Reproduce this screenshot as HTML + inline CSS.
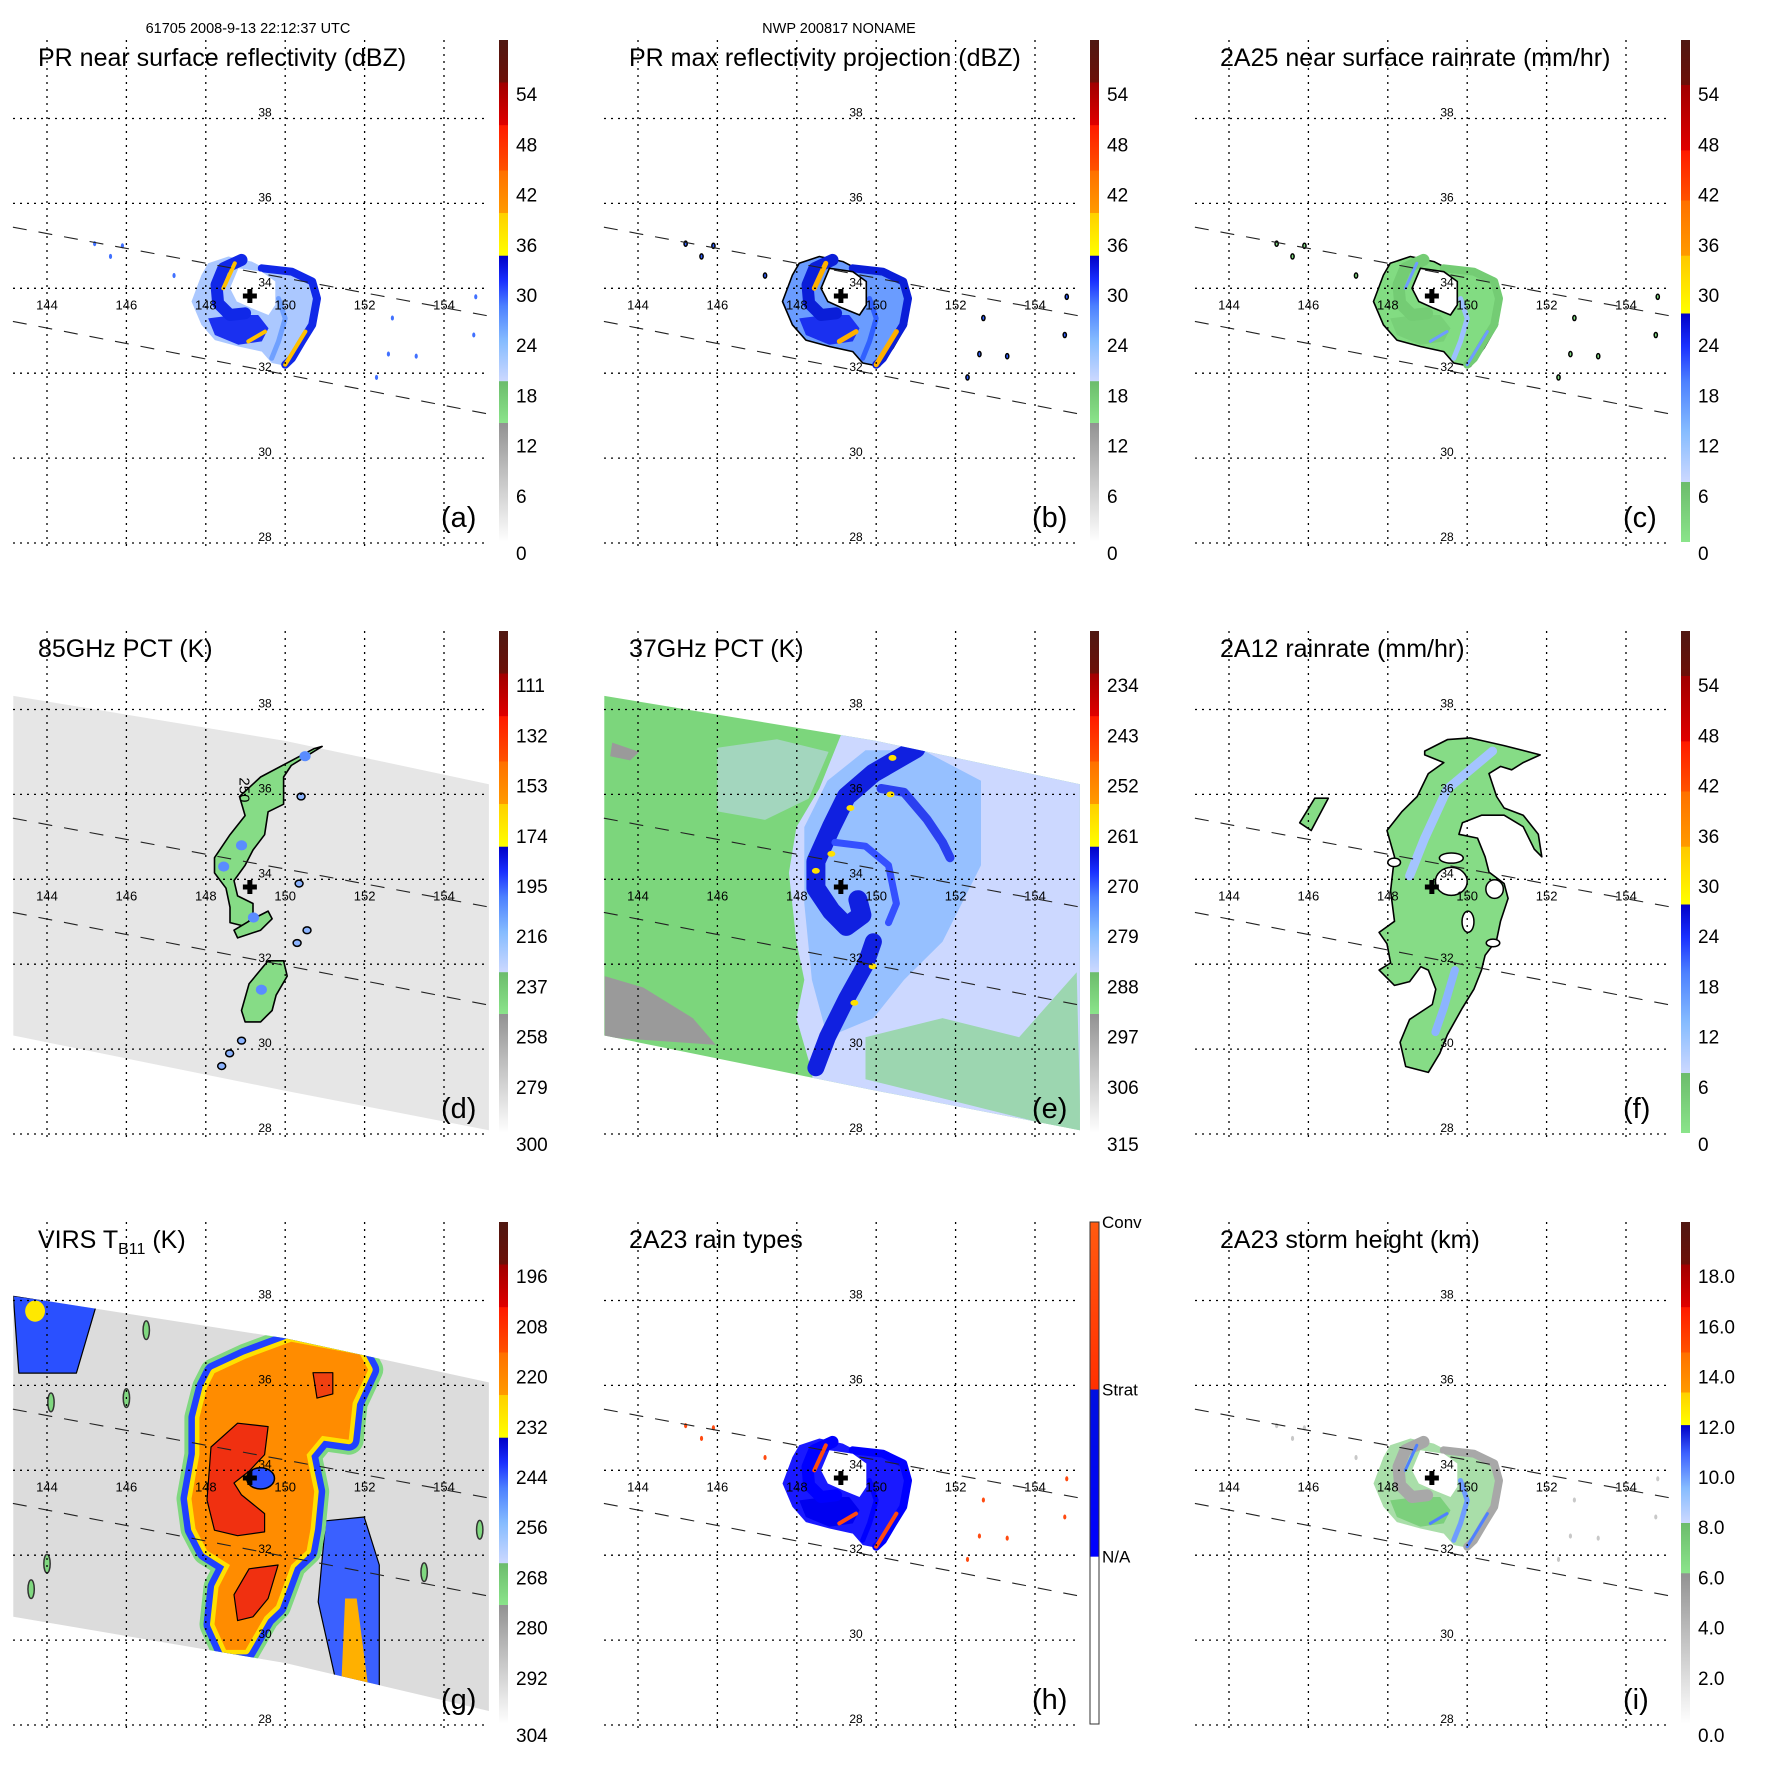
<!DOCTYPE html>
<html><head><meta charset="utf-8"><title>TRMM storm overview</title>
<style>
html,body{margin:0;padding:0;background:#fff;}
svg{display:block;font-family:"Liberation Sans",Arial,sans-serif;}
</style></head>
<body>
<svg id="chart" xmlns="http://www.w3.org/2000/svg" width="1771" height="1771" viewBox="0 0 1771 1771">
<rect x="0" y="0" width="1771" height="1771" fill="#fff"/>
<defs id="defs"></defs>
<text x="248" y="33" font-size="14.5" text-anchor="middle">61705 2008-9-13 22:12:37 UTC</text>
<text x="839" y="33" font-size="14.5" text-anchor="middle">NWP 200817 NONAME</text>
</svg>
<script>
const NS='http://www.w3.org/2000/svg';
const svg=document.getElementById('chart');
const defs=document.getElementById('defs');
const PITCH=591;

const LON_TICKS=[144,146,148,150,152,154];
const LAT_TICKS=[28,30,32,34,36,38];
const STORM_CENTER=[149.11,33.82];

const PR_TOP=[[143.14,35.44],[155.11,33.35]];
const PR_BOT=[[143.14,33.22],[155.11,31.04]];
const TMI_TOP=[[143.15,38.32],[150,37.26],[155.13,36.24]];
const TMI_BOT=[[143.15,30.32],[150,29.02],[155.13,28.09]];
const VIRS_TOP=[[143.15,38.11],[150,37.11],[155.13,36.07]];
const VIRS_BOT=[[143.15,30.55],[150,29.46],[155.13,28.33]];

const PR_ECHO=[[148.06,34.59],[148.57,34.75],[149.16,34.63],[149.41,34.51],[150.25,34.35],[150.68,34.24],[150.84,33.84],[150.76,33.14],[150.42,32.59],[150.08,32.16],[149.66,32.24],[149.41,32.51],[148.82,32.63],[148.23,32.78],[147.89,33.14],[147.64,33.69],[147.89,34.31]];
const PR_EYE=[[148.82,34.47],[149.41,34.39],[149.75,34.16],[149.75,33.61],[149.58,33.37],[149.16,33.53],[148.78,33.69],[148.61,34.0]];
const PR_ARC1=[[148.90,34.67],[148.44,34.47],[148.27,34.08],[148.31,33.65],[148.61,33.37],[148.99,33.41]];
const PR_MASS=[[148.06,33.29],[148.73,33.37],[149.32,33.37],[149.58,33.06],[149.41,32.75],[148.82,32.67],[148.23,32.90]];
const PR_ARC3=[[149.41,34.47],[150.17,34.39],[150.68,34.16],[150.80,33.76],[150.68,33.14],[150.42,32.75],[150.17,32.35],[150.0,32.2]];
const PR_ARC4=[[149.83,33.76],[150.0,33.29],[149.83,32.75],[149.66,32.35]];
const PR_HI1=[[148.73,34.59],[148.44,34.0]];
const PR_HI2=[[149.07,32.75],[149.49,32.98]];
const PR_HI3=[[150.51,32.98],[150.0,32.2]];
const PR_SCATTER=[[145.9,35.0],[145.6,34.75],[145.2,35.05],[152.7,33.3],[154.75,32.9],[153.3,32.4],[152.6,32.45],[154.8,33.8],[147.2,34.3],[152.3,31.9]];

const D_ARC=[[150.73,37.08],[149.38,36.41],[148.85,35.95],[148.99,35.5],[148.61,35.05],[148.22,34.51],[148.22,34.15],[148.51,33.79],[148.61,33.34],[148.61,32.98],[148.99,32.89],[149.19,33.16],[149.19,33.43],[148.80,33.61],[148.71,33.97],[148.99,34.33],[149.19,34.69],[149.48,35.05],[149.57,35.59],[149.96,35.77],[149.96,36.41],[150.15,36.68],[150.93,37.13]];
const D_ARM=[[148.71,32.80],[149.19,33.07],[149.57,33.25],[149.67,33.07],[149.38,32.80],[148.80,32.62]];
const D_SOUTH=[[149.57,32.08],[149.96,32.08],[150.05,31.72],[149.77,31.27],[149.67,30.91],[149.38,30.64],[148.99,30.64],[148.90,30.91],[149.09,31.54]];
const D_SPOTS=[[150.4,35.95],[150.55,32.8],[150.3,32.5],[148.6,29.9],[148.9,30.2],[148.4,29.6],[150.35,33.9]];
const D_BLUE=[[148.45,34.3],[148.9,34.8],[149.2,33.1],[149.4,31.4],[150.5,36.9]];

const E_LAV=[[149.15,38.84],[149.15,37.49],[148.57,36.14],[147.99,35.23],[147.80,34.15],[147.99,32.53],[148.19,31.63],[147.99,30.73],[148.38,29.47],[148.6,27.0],[155.6,27.0],[155.6,38.84]];
const E_LAV_W=[[146.0,37.1],[147.5,37.3],[148.8,37.0],[148.3,35.9],[147.2,35.4],[146.0,35.6]];
const E_GREEN_SE=[[149.73,30.28],[151.67,30.73],[153.6,30.28],[155.05,31.81],[155.15,28.03],[149.73,29.29]];
const E_LBLUE=[[149.73,37.04],[151.18,37.04],[152.64,36.32],[152.64,34.33],[151.67,32.53],[150.70,31.63],[149.93,30.73],[148.77,30.28],[148.38,31.63],[148.19,33.43],[148.19,35.23],[148.77,36.32]];
const E_BAND1=[[151.0,37.08],[149.93,36.50],[149.25,35.95],[148.87,35.23],[148.48,34.42],[148.48,33.79],[148.87,33.25],[149.25,32.89],[149.64,33.16],[149.54,33.52]];
const E_BAND2=[[149.93,32.53],[149.73,31.99],[149.25,31.18],[148.77,30.28],[148.48,29.56]];
const E_BAND3=[[150.12,36.14],[150.70,36.05],[151.28,35.41],[151.67,34.87],[151.86,34.51]];
const E_RING=[[148.96,34.87],[149.73,34.78],[150.31,34.33],[150.51,33.43],[150.31,32.98]];
const E_YELLOW=[[149.35,35.68],[148.87,34.6],[150.41,36.86],[150.36,36.0],[149.45,31.09],[149.91,31.95],[148.48,34.2]];
const E_GRAY1=[[143.16,31.72],[144.13,31.45],[145.38,30.73],[145.96,30.10],[143.16,30.28]];
const E_GRAY2=[[143.35,37.22],[144.03,37.0],[143.8,36.8],[143.3,36.9]];

const F_MAIN=[[148.93,37.02],[149.50,37.29],[150.07,37.33],[150.93,37.15],[151.84,36.93],[151.41,36.75],[151.12,36.58],[150.84,36.66],[150.55,36.49],[150.74,35.95],[150.93,35.68],[151.41,35.51],[151.79,35.06],[151.88,34.53],[151.69,34.71],[151.41,35.24],[150.93,35.51],[150.36,35.51],[149.88,35.33],[149.79,35.06],[150.26,34.97],[150.45,34.53],[150.55,34.17],[150.93,33.90],[151.03,33.55],[150.84,33.01],[150.74,32.57],[150.45,32.21],[150.36,31.86],[150.17,31.41],[149.88,30.97],[149.50,30.34],[149.31,29.90],[149.02,29.45],[148.45,29.59],[148.31,30.16],[148.55,30.70],[149.12,31.05],[149.21,31.41],[149.02,31.86],[148.83,31.94],[148.55,31.59],[148.17,31.50],[147.78,31.86],[148.07,32.03],[147.98,32.48],[147.78,32.75],[148.17,33.01],[148.07,33.73],[148.17,34.53],[147.98,35.15],[148.36,35.60],[148.74,35.95],[149.02,36.49],[149.41,36.75],[148.93,36.93]];
const F_HOLES=[[149.6,33.95,0.4,0.33],[150.69,33.77,0.22,0.22],[150.02,33.0,0.15,0.25],[149.6,34.5,0.3,0.12],[148.16,34.4,0.16,0.1],[150.65,32.5,0.17,0.09]];
const F_NW=[[145.78,35.33],[146.16,35.91],[146.50,35.91],[146.07,35.15]];
const F_STREAK=[[150.64,37.02],[149.50,36.13],[148.93,34.97],[148.55,34.08]];
const F_STREAK2=[[149.69,31.86],[149.41,30.97],[149.2,30.4]];

const G_ORANGE=[[148.22,36.29],[149.0,36.63],[150.15,37.03],[151.89,36.72],[152.09,36.37],[151.70,35.59],[151.60,34.72],[150.93,34.81],[150.54,34.37],[150.73,33.50],[150.64,32.63],[150.54,32.11],[150.15,31.77],[149.77,30.81],[149.48,30.55],[149.0,29.77],[148.51,29.77],[148.22,30.37],[148.32,31.24],[148.61,31.77],[148.03,32.11],[147.74,32.63],[147.64,33.33],[147.84,34.37],[147.84,35.24],[148.03,35.94]];
const G_RED1=[[148.13,34.55],[148.80,35.11],[149.57,35.03],[149.48,34.37],[149.09,33.98],[148.71,33.7],[148.9,33.42],[149.48,32.98],[149.48,32.55],[148.80,32.46],[148.22,32.59],[148.03,33.3]];
const G_RED2=[[148.80,30.46],[148.71,31.07],[149.09,31.68],[149.82,31.77],[149.57,30.98],[149.19,30.55]];
const G_RED3=[[150.7,36.3],[151.2,36.3],[151.2,35.8],[150.8,35.7]];
const G_EAST=[[151.02,32.81],[151.99,32.90],[152.37,31.77],[152.37,28.9],[151.31,28.9],[150.83,30.90]];
const G_EAST_Y=[[151.51,30.98],[151.80,30.98],[152.09,28.9],[151.41,28.9]];
const G_NW=[[143.15,38.11],[145.23,37.85],[144.74,36.29],[143.29,36.29]];
const G_EYE=[149.38,33.81];
const G_BITS=[[146.5,37.3],[144.1,35.6],[146.0,35.7],[143.6,31.2],[144.0,31.8],[153.5,31.6],[154.9,32.6]];

const CB_A=[[0,'#ffffff'],[0.237,'#929292'],[0.2375,'#8ae48a'],[0.32,'#6cbc6c'],[0.3205,'#ccd8ff'],[0.4,'#86bcff'],[0.47,'#4c80ff'],[0.52,'#1a30ff'],[0.57,'#0000c8'],[0.5705,'#ffff00'],[0.655,'#ffd000'],[0.6555,'#ff9a00'],[0.74,'#ff7000'],[0.7405,'#ff5200'],[0.83,'#ff1a00'],[0.8305,'#e00000'],[0.915,'#a00000'],[0.9155,'#6c1008'],[1,'#501812']];
const CB_C=[[0,'#8ae48a'],[0.119,'#6cbc6c'],[0.1195,'#ccd8ff'],[0.22,'#86bcff'],[0.32,'#4c80ff'],[0.39,'#1a30ff'],[0.455,'#0000c8'],[0.4555,'#ffff00'],[0.57,'#ffc800'],[0.5705,'#ff9a00'],[0.68,'#ff7000'],[0.6805,'#ff5200'],[0.78,'#ff1a00'],[0.7805,'#e00000'],[0.91,'#a00000'],[0.9105,'#6c1008'],[1,'#501812']];
const CB_I=[[0,'#ffffff'],[0.3,'#929292'],[0.3005,'#8ae48a'],[0.4,'#6cbc6c'],[0.4005,'#ccd8ff'],[0.47,'#86bcff'],[0.54,'#3c60ff'],[0.595,'#0000c8'],[0.5955,'#ffff00'],[0.66,'#ffd000'],[0.6605,'#ff9a00'],[0.74,'#ff7000'],[0.7405,'#ff5200'],[0.83,'#ff1a00'],[0.8305,'#e00000'],[0.915,'#a00000'],[0.9155,'#6c1008'],[1,'#501812']];
const CB_H=[[0,'#ffffff'],[0.333,'#ffffff'],[0.3335,'#0000ff'],[0.666,'#0010e0'],[0.6665,'#ff3000'],[1,'#ff5a10']];

const LAB_DBZ=['0','6','12','18','24','30','36','42','48','54'];
const LAB_RAIN=['0','6','12','18','24','30','36','42','48','54'];
const LAB_85=['300','279','258','237','216','195','174','153','132','111'];
const LAB_37=['315','306','297','288','279','270','261','252','243','234'];
const LAB_IR=['304','292','280','268','256','244','232','220','208','196'];
const LAB_HT=['0.0','2.0','4.0','6.0','8.0','10.0','12.0','14.0','16.0','18.0'];
const LAB_TYPE=['N/A','Strat','Conv'];

function X(lon){return 47+(lon-144)*39.7;}
function Y(lat){return 543-(lat-28)*42.45;}
function mk(tag,parent){const e=document.createElementNS(NS,tag);parent.appendChild(e);return e;}
function D(pts,closed){return 'M'+pts.map(p=>X(p[0]).toFixed(1)+','+Y(p[1]).toFixed(1)).join('L')+(closed?'Z':'');}
function swathD(top,bot){return D(top,false)+'L'+bot.slice().reverse().map(p=>X(p[0]).toFixed(1)+','+Y(p[1]).toFixed(1)).join('L')+'Z';}
function shape(g,pts,closed,fill,stroke,sw,name){
  const p=mk('path',g);
  p.setAttribute('d',D(pts,closed));
  p.setAttribute('fill',fill);
  p.setAttribute('stroke',stroke);
  p.setAttribute('stroke-width',sw);
  p.setAttribute('stroke-linejoin','round');
  p.setAttribute('stroke-linecap','round');
  
  
  return p;
}
function blob(g,c,rx,ry,fill,stroke,name){
  const e=mk('ellipse',g);
  e.setAttribute('cx',X(c[0]));e.setAttribute('cy',Y(c[1]));
  e.setAttribute('rx',rx*39.7);e.setAttribute('ry',ry*42.45);
  e.setAttribute('fill',fill);e.setAttribute('stroke',stroke);e.setAttribute('stroke-width',1.5);
  
  
  return e;
}
function makeGrad(id,stops){
  const lg=mk('linearGradient',defs);
  lg.setAttribute('id',id);lg.setAttribute('x1','0');lg.setAttribute('y1','1');lg.setAttribute('x2','0');lg.setAttribute('y2','0');
  stops.forEach(s=>{const st=mk('stop',lg);st.setAttribute('offset',s[0]);st.setAttribute('stop-color',s[1]);});
}
makeGrad('gA',CB_A);makeGrad('gC',CB_C);makeGrad('gI',CB_I);makeGrad('gH',CB_H);
function makeClip(id,top,bot){
  const cp=mk('clipPath',defs);cp.setAttribute('id',id);
  const p=mk('path',cp);p.setAttribute('d',swathD(top,bot));
}

function panel(col,row,letter,title,grad,labels,labFrac,content){
  const ox=col*PITCH, oy=row*PITCH;
  const g=mk('g',svg);
  g.setAttribute('transform','translate('+ox+','+oy+')');
  
  
  const cg=mk('g',g);
  
  
  content(cg,letter);
  const gg=mk('g',g);
  
  
  LON_TICKS.forEach(lon=>{
    const l=mk('line',gg);
    l.setAttribute('x1',X(lon));l.setAttribute('x2',X(lon));l.setAttribute('y1',40);l.setAttribute('y2',551);
    l.setAttribute('stroke','#000');l.setAttribute('stroke-width',1.3);l.setAttribute('stroke-dasharray','2,5');
    
    
    const t=mk('text',gg);
    t.setAttribute('x',X(lon));t.setAttribute('y',Y(34)+21);t.setAttribute('font-size',13);t.setAttribute('text-anchor','middle');
    t.textContent=lon;
    
    
  });
  LAT_TICKS.forEach(lat=>{
    const l=mk('line',gg);
    l.setAttribute('x1',13);l.setAttribute('x2',489);l.setAttribute('y1',Y(lat));l.setAttribute('y2',Y(lat));
    l.setAttribute('stroke','#000');l.setAttribute('stroke-width',1.3);l.setAttribute('stroke-dasharray','2,5');
    
    
    const t=mk('text',gg);
    t.setAttribute('x',265);t.setAttribute('y',Y(lat)-2);t.setAttribute('font-size',12);t.setAttribute('text-anchor','middle');
    t.textContent=lat;
    
    
  });
  [PR_TOP,PR_BOT].forEach((s,i)=>{
    const p=shape(g,s,false,'none','#222',1.1,i?'pr-swath-south-edge':'pr-swath-north-edge');
    p.setAttribute('stroke-dasharray','14,12');
    p.setAttribute('stroke-linecap','butt');
  });
  const cx=X(STORM_CENTER[0]),cy=Y(STORM_CENTER[1]);
  const cr=mk('path',g);
  cr.setAttribute('d','M'+(cx-7)+','+(cy-2.5)+'h14v5h-14zM'+(cx-2.5)+','+(cy-7)+'h5v14h-5z');
  cr.setAttribute('fill','#000');
  
  
  const tt=mk('text',g);
  tt.setAttribute('x',38);tt.setAttribute('y',66);tt.setAttribute('font-size',25);
  
  
  if(letter==='g'){
    tt.appendChild(document.createTextNode('VIRS T'));
    const s=mk('tspan',tt);s.setAttribute('font-size',16);s.setAttribute('dy',6);s.textContent='B11';
    const s2=mk('tspan',tt);s2.setAttribute('dy',-6);s2.textContent=' (K)';
  } else tt.textContent=title;
  const lt=mk('text',g);
  lt.setAttribute('x',441);lt.setAttribute('y',527);lt.setAttribute('font-size',29);
  lt.textContent='('+letter+')';
  
  
  const cb=mk('g',g);
  
  
  const r=mk('rect',cb);
  r.setAttribute('x',499);r.setAttribute('y',40);r.setAttribute('width',9);r.setAttribute('height',502);
  r.setAttribute('fill','url(#'+grad+')');
  if(grad==='gH'){r.setAttribute('stroke','#333');r.setAttribute('stroke-width',1);}
  
  
  labels.forEach((lab,i)=>{
    const f=labFrac(i);
    const yy=542-f*502;
    const t=mk('text',cb);
    t.setAttribute('x',grad==='gH'?511:516);
    t.setAttribute('y',grad==='gH'?yy+6:yy+(i===0?18:11));
    t.setAttribute('font-size',grad==='gH'?17:19);
    t.textContent=lab;
    
    
  });
}

function prStorm(g,scheme){
  const c=scheme;
  shape(g,PR_ECHO,true,c.fill,c.outline,c.ow,'rain-echo-area').setAttribute('fill-opacity',c.op);
  shape(g,PR_MASS,true,c.mass,'none',0,'rain-band-south-mass');
  shape(g,PR_ARC1,false,'none',c.arc,12,'rain-band-inner-spiral');
  shape(g,PR_ARC3,false,'none',c.arc,8,'rain-band-outer-arc');
  shape(g,PR_ARC4,false,'none',c.arc2,5,'rain-band-inner-arc');
  [PR_HI1,PR_HI2,PR_HI3].forEach((h,i)=>{
    shape(g,h,false,'none',c.hi,c.hw,'intense-rain-core-'+(i+1));
  });
  shape(g,PR_EYE,true,'#fff',c.outline,c.ow,'storm-eye');
  PR_SCATTER.forEach((p,i)=>{
    blob(g,p,0.04,0.06,c.dot,c.outline==='none'?'none':'#000','scattered-echo-'+i);
  });
}
const SCHEME_A={fill:'#8fb6ff',outline:'none',ow:0,op:0.75,mass:'#1a30f0',arc:'#1028e8',arc2:'#6fa0ff',hi:'#ffc000',hw:4,dot:'#4070ff'};
const SCHEME_B={fill:'#6a9cff',outline:'#000',ow:1.6,op:1,mass:'#1a30f0',arc:'#0a1ed8',arc2:'#3060ff',hi:'#ffb000',hw:5,dot:'#3060ff'};
const SCHEME_C={fill:'#82dc82',outline:'#000',ow:1.6,op:1,mass:'#78d078',arc:'#74cc74',arc2:'#9cc0ff',hi:'#6e9cff',hw:3,dot:'#82dc82'};
const SCHEME_H={fill:'#0000ff',outline:'none',ow:0,op:0.9,mass:'#0000f0',arc:'#0000ff',arc2:'#0000ff',hi:'#ff4a10',hw:4,dot:'#ff4a10'};
const SCHEME_I={fill:'#9ad89a',outline:'none',ow:0,op:0.85,mass:'#7cd07c',arc:'#a8a8a8',arc2:'#6f9cff',hi:'#4f80ff',hw:3,dot:'#c8c8c8'};

const dbzFrac=i=>i*6/60;
const tenFrac=i=>i/10;
const typeFrac=i=>(i+1)/3;

panel(0,0,'a','PR near surface reflectivity (dBZ)','gA',LAB_DBZ,dbzFrac,g=>prStorm(g,SCHEME_A));
panel(1,0,'b','PR max reflectivity projection (dBZ)','gA',LAB_DBZ,dbzFrac,g=>prStorm(g,SCHEME_B));
panel(2,0,'c','2A25 near surface rainrate (mm/hr)','gC',LAB_RAIN,dbzFrac,g=>prStorm(g,SCHEME_C));

panel(0,1,'d','85GHz PCT (K)','gA',LAB_85,tenFrac,g=>{
  const sw=mk('path',g);
  sw.setAttribute('d',swathD(TMI_TOP,TMI_BOT));sw.setAttribute('fill','#e6e6e6');
  
  
  shape(g,D_ARC,true,'#86dc86','#000',1.6,'convective-arc');
  shape(g,D_ARM,true,'#86dc86','#000',1.6,'convective-arm');
  shape(g,D_SOUTH,true,'#86dc86','#000',1.6,'southern-rainband');
  D_BLUE.forEach((p,i)=>{blob(g,p,0.14,0.12,'#5a8cff','none','ice-scattering-core-'+i);});
  D_SPOTS.forEach((p,i)=>{blob(g,p,0.1,0.08,'#8cb4ff','#000','small-cell-'+i);});
  const t=mk('text',g);
  t.setAttribute('x',X(148.85));t.setAttribute('y',Y(36.4));t.setAttribute('font-size',15);
  t.setAttribute('transform','rotate(90 '+X(148.85)+' '+Y(36.4)+')');
  t.textContent='250';
  
  
});

panel(1,1,'e','37GHz PCT (K)','gA',LAB_37,tenFrac,g=>{
  makeClip('clipE',TMI_TOP,TMI_BOT);
  const sw=mk('path',g);
  sw.setAttribute('d',swathD(TMI_TOP,TMI_BOT));sw.setAttribute('fill','#7cd67c');
  
  
  const cg=mk('g',g);cg.setAttribute('clip-path','url(#clipE)');
  
  
  shape(cg,E_GRAY1,true,'#9a9a9a','none',0,'warm-sea-patch-sw');
  shape(cg,E_GRAY2,true,'#9a9a9a','none',0,'warm-sea-patch-nw');
  shape(cg,E_LAV_W,true,'#c9d6ff','none',0,'light-rain-west').setAttribute('fill-opacity',0.5);
  shape(cg,E_LAV,true,'#ccd8ff','none',0,'light-rain-east');
  shape(cg,E_GREEN_SE,true,'#7cd67c','none',0,'clear-sky-southeast').setAttribute('fill-opacity',0.6);
  shape(cg,E_LBLUE,true,'#96c0ff','none',0,'moderate-rain');
  shape(cg,E_BAND1,false,'none','#1020e0',19,'eyewall-band');
  shape(cg,E_BAND2,false,'none','#1020e0',17,'southern-band');
  shape(cg,E_BAND3,false,'none','#2a40f0',9,'northeast-band');
  shape(cg,E_RING,false,'none','#3450ff',7,'inner-ring');
  E_YELLOW.forEach((p,i)=>{blob(cg,p,0.1,0.07,'#ffe000','none','heavy-rain-pixel-'+i);});
});

panel(2,1,'f','2A12 rainrate (mm/hr)','gC',LAB_RAIN,dbzFrac,g=>{
  shape(g,F_MAIN,true,'#86dc86','#000',1.6,'rain-area');
  shape(g,F_STREAK,false,'none','#a4c4ff',9,'rain-streak-north');
  shape(g,F_STREAK2,false,'none','#8cb4ff',8,'rain-streak-south');
  F_HOLES.forEach((h,i)=>{blob(g,[h[0],h[1]],h[2],h[3],'#fff','#000','no-rain-hole-'+i);});
  shape(g,F_NW,true,'#86dc86','#000',1.6,'northwest-rain-cell');
});

panel(0,2,'g','VIRS TB11 (K)','gA',LAB_IR,tenFrac,g=>{
  makeClip('clipG',VIRS_TOP,VIRS_BOT);
  const sw=mk('path',g);
  sw.setAttribute('d',swathD(VIRS_TOP,VIRS_BOT));sw.setAttribute('fill','#dcdcdc');
  
  
  const cg=mk('g',g);cg.setAttribute('clip-path','url(#clipG)');
  
  
  shape(cg,G_NW,true,'#2a50ff','#000',1.2,'northwest-cloud');
  blob(cg,[143.7,37.75],0.25,0.25,'#ffe800','none','northwest-cold-top');
  shape(cg,G_EAST,true,'#3a60ff','#000',1.2,'eastern-cloud-band');
  shape(cg,G_EAST_Y,true,'#ffb000','none',0,'eastern-cold-band');
  shape(cg,G_ORANGE,true,'none','#80d880',30,'cloud-shield-edge');
  shape(cg,G_ORANGE,true,'none','#2040ff',22,'cloud-shield-rim');
  shape(cg,G_ORANGE,true,'none','#ffe000',9,'cloud-shield-yellow-rim');
  shape(cg,G_ORANGE,true,'#ff8c00','none',0,'cloud-shield');
  shape(cg,G_RED1,true,'#f03010','#000',1.2,'coldest-cloud-top');
  shape(cg,G_RED2,true,'#f03010','#000',1.2,'southern-cold-top');
  shape(cg,G_RED3,true,'#f04010','#000',1.2,'northern-cold-top');
  blob(cg,G_EYE,0.35,0.25,'#2a50ff','#000','eye-region');
  G_BITS.forEach((p,i)=>{blob(cg,p,0.08,0.22,'#80d880','#333','small-cloud-'+i);});
});

panel(1,2,'h','2A23 rain types','gH',LAB_TYPE,typeFrac,g=>prStorm(g,SCHEME_H));
panel(2,2,'i','2A23 storm height (km)','gI',LAB_HT,tenFrac,g=>prStorm(g,SCHEME_I));
</script>
</body></html>
